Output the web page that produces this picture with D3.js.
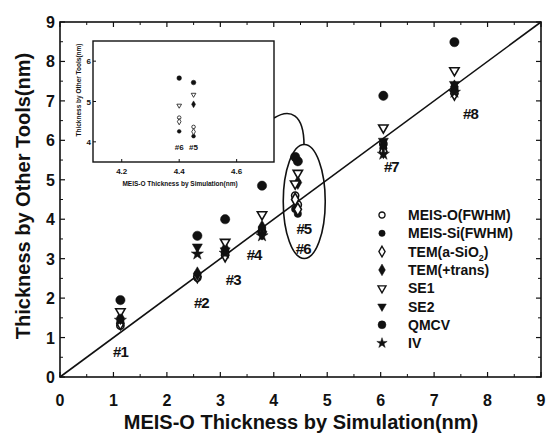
<!DOCTYPE html>
<html>
<head>
<meta charset="utf-8">
<script src="https://cdn.jsdelivr.net/npm/d3@7"></script>
<style>
  body { margin: 0; background: #fff; }
  text { font-family: "Liberation Sans", Arial, sans-serif; font-weight: bold; fill: #111; }
</style>
</head>
<body>
<div id="chart"></div>
<script>
// sample labels and MEIS-O simulated thickness (x)
const samples = ["#1", "#2", "#3", "#4", "#5", "#6", "#7", "#8"];
const simThickness = [1.13, 2.57, 3.09, 3.78, 4.45, 4.40, 6.05, 7.38];

// thickness by other tools (y), null = not measured
const meisO    = [1.30, 2.52, 3.12, 3.70, 4.37, 4.60, 5.92, 7.25];
const meisSi   = [1.42, 2.60, 3.18, 3.76, 4.14, 4.26, 5.80, 7.32];
const temA     = [1.36, 2.55, 3.08, 3.66, 4.25, 4.50, 5.72, 7.18];
const temTrans = [1.50, 2.62, 3.26, 3.80, 4.93, null, 5.88, 7.36];
const se1      = [1.66, null, 3.42, 4.12, 5.17, 4.90, 6.32, 7.77];
const se2      = [null, 3.30, 3.20, 3.62, null, null, 5.98, 7.42];
const qmcv     = [1.95, 3.58, 4.00, 4.85, 5.47, 5.58, 7.13, 8.49];
const iv       = [1.44, 3.12, 3.14, 3.58, null, null, 5.65, 7.22];

const seriesNames = ["MEIS-O(FWHM)", "MEIS-Si(FWHM)", "TEM(a-SiO2)", "TEM(+trans)", "SE1", "SE2", "QMCV", "IV"];
const seriesValues = [meisO, meisSi, temA, temTrans, se1, se2, qmcv, iv];

const mainTicks = [0, 1, 2, 3, 4, 5, 6, 7, 8, 9];
const insetXTicks = [4.2, 4.4, 4.6];
const insetYTicks = [4, 5, 6];

let svgWidth = 547;
let svgHeight = 438;

let svg = d3.select("#chart").append("svg")
  .attr("width", svgWidth)
  .attr("height", svgHeight);

// main scales
let x = d3.scaleLinear().domain([0, 9]).range([60, 541]);
let y = d3.scaleLinear().domain([0, 9]).range([377, 22]);

// marker style per series
const markers = [
  { type: d3.symbolCircle, size: 40, fill: "#fff", rot: 0 },
  { type: d3.symbolCircle, size: 44, fill: "#111", rot: 0 },
  { type: d3.symbolDiamond, size: 46, fill: "#fff", rot: 0 },
  { type: d3.symbolDiamond, size: 54, fill: "#111", rot: 0 },
  { type: d3.symbolTriangle, size: 38, fill: "#fff", rot: 180 },
  { type: d3.symbolTriangle, size: 44, fill: "#111", rot: 180 },
  { type: d3.symbolCircle, size: 68, fill: "#111", rot: 0 },
  { type: d3.symbolStar, size: 46, fill: "#111", rot: 0 }
];

function drawMarker(g, i, px, py, scale) {
  let m = markers[i];
  g.append("path")
    .attr("d", d3.symbol().type(m.type).size(m.size * scale * scale)())
    .attr("transform", `translate(${px},${py}) rotate(${m.rot})`)
    .attr("fill", m.fill)
    .attr("stroke", "#111")
    .attr("stroke-width", m.fill === "#fff" ? 1.6 * scale : 0.5);
}

// frame with inward ticks on all four sides
let axisG = svg.append("g").attr("stroke", "#111").attr("fill", "none");
axisG.append("rect")
  .attr("x", x(0)).attr("y", y(9))
  .attr("width", x(9) - x(0)).attr("height", y(0) - y(9))
  .attr("stroke-width", 1.6);

let minor = d3.range(0.5, 9, 1);
mainTicks.forEach(t => {
  axisG.append("line").attr("x1", x(t)).attr("x2", x(t)).attr("y1", y(0)).attr("y2", y(0) - 5).attr("stroke-width", 1.2);
  axisG.append("line").attr("x1", x(t)).attr("x2", x(t)).attr("y1", y(9)).attr("y2", y(9) + 5).attr("stroke-width", 1.2);
  axisG.append("line").attr("y1", y(t)).attr("y2", y(t)).attr("x1", x(0)).attr("x2", x(0) + 5).attr("stroke-width", 1.2);
  axisG.append("line").attr("y1", y(t)).attr("y2", y(t)).attr("x1", x(9)).attr("x2", x(9) - 5).attr("stroke-width", 1.2);
});
minor.forEach(t => {
  axisG.append("line").attr("x1", x(t)).attr("x2", x(t)).attr("y1", y(0)).attr("y2", y(0) - 3);
  axisG.append("line").attr("x1", x(t)).attr("x2", x(t)).attr("y1", y(9)).attr("y2", y(9) + 3);
  axisG.append("line").attr("y1", y(t)).attr("y2", y(t)).attr("x1", x(0)).attr("x2", x(0) + 3);
  axisG.append("line").attr("y1", y(t)).attr("y2", y(t)).attr("x1", x(9)).attr("x2", x(9) - 3);
});

// tick labels
svg.append("g").selectAll("text")
  .data(mainTicks).enter().append("text")
  .attr("x", d => x(d)).attr("y", 406)
  .attr("text-anchor", "middle").attr("font-size", 16)
  .text(d => d);
svg.append("g").selectAll("text")
  .data(mainTicks).enter().append("text")
  .attr("x", 55).attr("y", d => y(d) + 6)
  .attr("text-anchor", "end").attr("font-size", 16)
  .text(d => d);

// axis titles
svg.append("text")
  .attr("x", 301).attr("y", 429)
  .attr("text-anchor", "middle").attr("font-size", 20)
  .text("MEIS-O Thickness by Simulation(nm)");
svg.append("text")
  .attr("transform", `translate(30, 196) rotate(-90)`)
  .attr("text-anchor", "middle").attr("font-size", 20)
  .text("Thickness by Other Tools(nm)");

// y = x reference line
svg.append("line")
  .attr("x1", x(0)).attr("y1", y(0)).attr("x2", x(9)).attr("y2", y(9))
  .attr("stroke", "#111").attr("stroke-width", 1.6);

// ellipse around #5/#6 and connector to inset
svg.append("ellipse")
  .attr("cx", x(4.57)).attr("cy", y(4.45))
  .attr("rx", 21).attr("ry", 57)
  .attr("fill", "none").attr("stroke", "#111").attr("stroke-width", 1.6);
svg.append("path")
  .attr("d", "M274,118 C290,108 304,114 304,145")
  .attr("fill", "none").attr("stroke", "#111").attr("stroke-width", 1.6);

// main points
let pts = svg.append("g");
seriesValues.forEach((vals, si) => {
  vals.forEach((v, k) => {
    if (v == null) return;
    drawMarker(pts, si, x(simThickness[k]), y(v), 1);
  });
});

// sample labels (offset from each sample's x, placed below the line)
const labelOffsets = [[0, 351], [4, 302], [8, 279], [-8, 254], [6, 228], [8, 248], [8, 166], [16, 113]];
svg.append("g").selectAll("text")
  .data(samples).enter().append("text")
  .attr("x", (d, i) => x(simThickness[i]) + labelOffsets[i][0])
  .attr("y", (d, i) => labelOffsets[i][1] + 6)
  .attr("text-anchor", "middle").attr("font-size", 15)
  .attr("letter-spacing", -1)
  .text(d => d);

// legend
let legend = svg.append("g");
seriesNames.forEach((name, i) => {
  let ly = 215 + i * 18.3;
  drawMarker(legend, i, 382, ly, 0.85);
  let t = legend.append("text").attr("x", 408).attr("y", ly + 5).attr("font-size", 14);
  if (name === "TEM(a-SiO2)") {
    t.append("tspan").text("TEM(a-SiO");
    t.append("tspan").attr("font-size", 9).attr("dy", 4).text("2");
    t.append("tspan").attr("dy", -4).text(")");
  } else {
    t.text(name);
  }
});

// inset
let ix = d3.scaleLinear().domain([4.1, 4.73]).range([93, 274]);
let iy = d3.scaleLinear().domain([3.5, 6.5]).range([162, 41]);
let inset = svg.append("g");
inset.append("rect")
  .attr("x", ix(4.1)).attr("y", iy(6.5))
  .attr("width", ix(4.73) - ix(4.1)).attr("height", iy(3.5) - iy(6.5))
  .attr("fill", "#fff").attr("stroke", "#111").attr("stroke-width", 1.4);
insetXTicks.forEach(t => {
  inset.append("line").attr("x1", ix(t)).attr("x2", ix(t)).attr("y1", iy(3.5)).attr("y2", iy(3.5) - 3).attr("stroke", "#111");
  inset.append("text").attr("x", ix(t)).attr("y", 174).attr("text-anchor", "middle").attr("font-size", 8).text(t.toFixed(1));
});
insetYTicks.forEach(t => {
  inset.append("line").attr("y1", iy(t)).attr("y2", iy(t)).attr("x1", ix(4.1)).attr("x2", ix(4.1) + 3).attr("stroke", "#111");
  inset.append("text").attr("x", 91).attr("y", iy(t) + 3).attr("text-anchor", "end").attr("font-size", 8).text(t);
});
inset.append("text").attr("x", 180).attr("y", 186).attr("text-anchor", "middle").attr("font-size", 6.5)
  .text("MEIS-O Thickness by Simulation(nm)");
inset.append("text").attr("transform", "translate(81, 90) rotate(-90)").attr("text-anchor", "middle").attr("font-size", 6.5)
  .text("Thickness by Other Tools(nm)");

[4, 5].forEach(k => {
  seriesValues.forEach((vals, si) => {
    if (vals[k] == null) return;
    drawMarker(inset, si, ix(simThickness[k]), iy(vals[k]), 0.5);
  });
  inset.append("text")
    .attr("x", ix(simThickness[k])).attr("y", 150)
    .attr("text-anchor", "middle").attr("font-size", 8)
    .text(samples[k]);
});
</script>
</body>
</html>
